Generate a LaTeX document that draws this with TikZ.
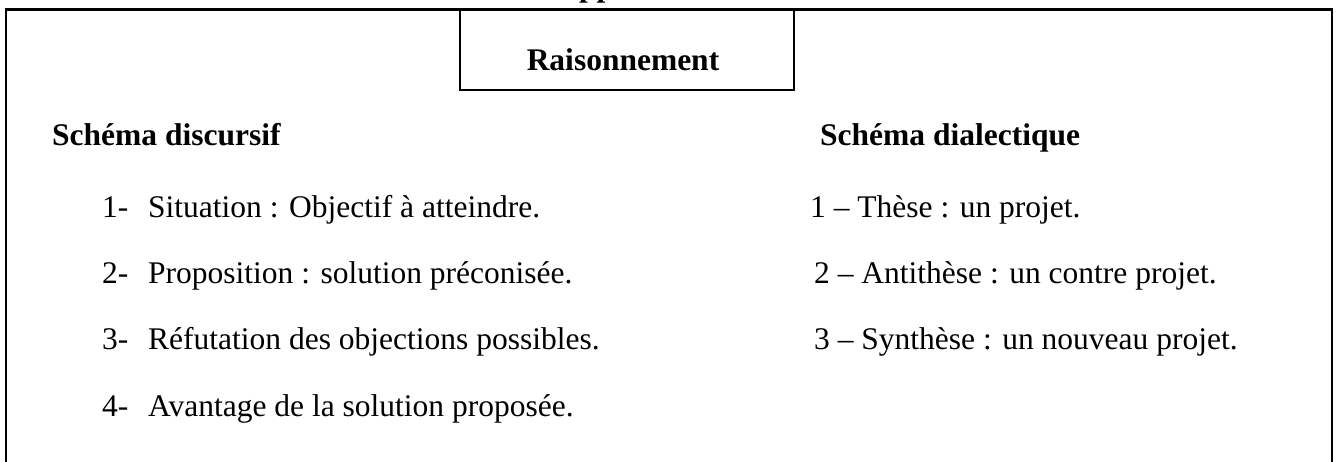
\documentclass[tikz,border=0pt]{standalone}
\usepackage{fontspec}
\setmainfont{Liberation Serif}
\begin{document}
\begin{tikzpicture}[x=1pt,y=-1pt,
  txt/.style={anchor=base west,inner sep=0pt,font=\fontsize{31.5}{36}\selectfont},
  head/.style={txt,font=\fontsize{31.5}{36}\selectfont\bfseries},
  frame/.style={draw=black,line width=2pt}]
\useasboundingbox (0,0) rectangle (1338,461);
% outer frame (open at the bottom)
\draw[frame] (5.5,470) -- (5.5,9.5) -- (1332,9.5) -- (1332,470);
\draw[black,line width=3pt] (4.5,9.5) -- (1333,9.5);
% Raisonnement box
\draw[frame] (460,9.5) rectangle (794,90);
% cut-off title
\node[head] (title) at (579,-4) {pp};
\node[head,anchor=base] (rais) at (623,70) {Raisonnement};
\node[head] (hleft) at (52,145) {Schéma discursif};
\node[head] (hright) at (820,145) {Schéma dialectique};
% left list
\node[txt] (l1) at (102,217) {\makebox[46pt][l]{1-}Situation : Objectif à atteindre.};
\node[txt] (l2) at (102,283) {\makebox[46pt][l]{2-}Proposition : solution préconisée.};
\node[txt] (l3) at (102,349) {\makebox[46pt][l]{3-}Réfutation des objections possibles.};
\node[txt] (l4) at (102,416) {\makebox[46pt][l]{4-}Avantage de la solution proposée.};
% right list
\node[txt] (r1) at (810,217) {1 – Thèse : un projet.};
\node[txt] (r2) at (814,283) {2 – Antithèse : un contre projet.};
\node[txt] (r3) at (814,349) {3 – Synthèse : un nouveau projet.};
\end{tikzpicture}
\end{document}
